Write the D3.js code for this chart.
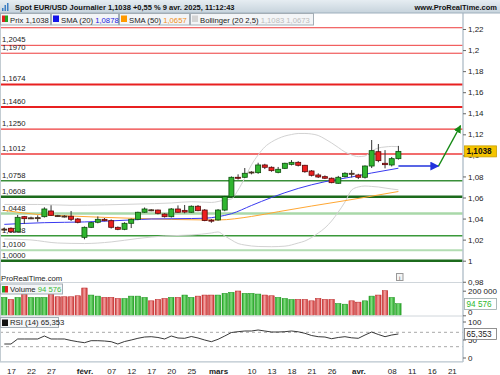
<!DOCTYPE html>
<html>
<head>
<meta charset="utf-8">
<script src="https://cdn.jsdelivr.net/npm/d3@7"></script>
<style>
body { margin: 0; background: #fff; }
svg { display: block; font-family: "Liberation Sans", Arial, sans-serif; }
</style>
</head>
<body>
<svg id="chart" width="500" height="375"></svg>
<script>
// EUR/USD daily candles, 16 jan -> 9 avr 2025
var dates = ["01-16","01-17","01-20","01-21","01-22","01-23","01-24","01-27","01-28","01-29",
  "01-30","01-31","02-03","02-04","02-05","02-06","02-07","02-10","02-11","02-12",
  "02-13","02-14","02-17","02-18","02-19","02-20","02-21","02-24","02-25","02-26",
  "02-27","02-28","03-03","03-04","03-05","03-06","03-07","03-10","03-11","03-12",
  "03-13","03-14","03-17","03-18","03-19","03-20","03-21","03-24","03-25","03-26",
  "03-27","03-28","03-31","04-01","04-02","04-03","04-04","04-07","04-08","04-09"];
var open = [1.0295,1.0308,1.0275,1.0418,1.0405,1.0407,1.0418,1.0472,1.0428,1.0424,
  1.0422,1.0396,1.0222,1.0317,1.0365,1.0393,1.0380,1.0317,1.0298,1.0355,
  1.0393,1.0460,1.0481,1.0481,1.0443,1.0418,1.0491,1.0478,1.0460,1.0517,
  1.0481,1.0385,1.0387,1.0481,1.0608,1.0792,1.0792,1.0838,1.0836,1.0909,
  1.0887,1.0839,1.0877,1.0915,1.0934,1.0906,1.0852,1.0814,1.0798,1.0783,
  1.0735,1.0798,1.0830,1.0814,1.0792,1.0899,1.1035,1.0925,1.0909,1.0969];
var high = [1.0315,1.0316,1.0434,1.0425,1.0418,1.0431,1.0507,1.0526,1.0435,1.0432,
  1.0472,1.0405,1.0325,1.0370,1.0420,1.0405,1.0392,1.0325,1.0365,1.0400,
  1.0465,1.0505,1.0490,1.0485,1.0450,1.0500,1.0525,1.0529,1.0525,1.0528,
  1.0490,1.0395,1.0490,1.0615,1.0800,1.0820,1.0880,1.0850,1.0930,1.0920,
  1.0895,1.0890,1.0930,1.0955,1.0945,1.0910,1.0860,1.0830,1.0810,1.0790,
  1.0805,1.0840,1.0860,1.0825,1.0905,1.1146,1.1108,1.1050,1.0985,1.1090];
var low = [1.0280,1.0265,1.0268,1.0349,1.0395,1.0370,1.0410,1.0425,1.0415,1.0410,
  1.0377,1.0355,1.0203,1.0310,1.0355,1.0375,1.0305,1.0290,1.0290,1.0310,
  1.0385,1.0455,1.0470,1.0440,1.0410,1.0410,1.0455,1.0450,1.0455,1.0470,
  1.0375,1.0360,1.0380,1.0470,1.0600,1.0770,1.0785,1.0820,1.0825,1.0870,
  1.0845,1.0830,1.0870,1.0905,1.0895,1.0835,1.0800,1.0785,1.0775,1.0735,
  1.0730,1.0790,1.0790,1.0775,1.0780,1.0880,1.0935,1.0877,1.0895,1.0960];
var close = [1.0300,1.0275,1.0412,1.0399,1.0407,1.0409,1.0491,1.0431,1.0424,1.0420,
  1.0393,1.0365,1.0317,1.0361,1.0393,1.0380,1.0317,1.0298,1.0355,1.0393,
  1.0460,1.0491,1.0483,1.0450,1.0418,1.0491,1.0460,1.0462,1.0517,1.0475,
  1.0381,1.0378,1.0481,1.0608,1.0792,1.0785,1.0830,1.0842,1.0909,1.0887,
  1.0855,1.0868,1.0925,1.0934,1.0906,1.0845,1.0811,1.0795,1.0783,1.0741,
  1.0792,1.0830,1.0828,1.0792,1.0899,1.1045,1.0950,1.0912,1.0969,1.1038];
var volume = [145700,129000,145700,172800,145700,145700,145700,172800,150600,150600,
  150600,158800,222000,164600,156000,145700,145700,137000,137000,156000,
  156000,145700,117700,129000,137000,145700,145700,164600,145700,156000,
  164600,164600,164600,178600,186800,197500,178600,178600,172800,164600,
  158800,145700,137000,129000,129000,129000,117700,137000,129000,129000,
  96000,90500,117700,107000,117700,156000,164600,200000,145700,94576];
var rsi = [37.5,37.5,51.4,51.4,51.4,51.4,59.7,51.4,51.4,51.4,
  47.2,43.9,41.1,46.7,46.7,45.8,43.9,37.5,44.4,48.6,
  53.3,56.9,57.8,55.6,51.4,59.7,54.2,53.3,58.3,54.2,
  48.6,43.9,50.6,59.7,69.4,71.7,73.6,73.6,76.4,73.6,
  70.8,70.8,71.7,73.6,71.4,67.2,61.1,57.8,56.9,52.2,
  55.6,57.8,54.7,53.3,62.5,70.8,63.9,57.8,62.5,65.353];

// indicator readings [candle index, value]
var sma20 = [[0,1.0345],[6,1.0361],[12,1.0368],[19,1.0387],[22,1.0396],[26,1.0399],[30,1.0403],
  [32,1.0418],[34,1.0446],[37,1.0524],[40,1.0600],[44,1.0686],[48,1.0750],[52,1.0795],[55,1.0833],[59,1.0878]];
var sma50 = [[0,1.0478],[5,1.0439],[10,1.0424],[20,1.0401],[30,1.0387],[32,1.0387],[37,1.0420],
  [41,1.0465],[46,1.0519],[51,1.0570],[54,1.0602],[59,1.0657]];
var bollUp = [[0,1.0534],[5,1.0534],[10,1.0526],[15,1.0530],[20,1.0538],[25,1.0548],[28,1.0560],[31,1.0553],
  [33,1.0576],[34,1.0586],[35,1.0671],[36,1.0785],[37,1.0909],[38,1.1004],[39,1.1080],[40,1.1127],
  [41,1.1160],[42,1.1184],[43,1.1198],[44,1.1208],[45,1.1208],[46,1.1203],[47,1.1189],[48,1.1156],
  [49,1.1118],[50,1.1075],[51,1.1032],[52,1.1004],[53,1.0988],[54,1.0994],[55,1.1042],[56,1.1070],
  [57,1.1080],[58,1.1085],[59,1.1083]];
var bollLow = [[0,1.0206],[4,1.0197],[8,1.0168],[12,1.0163],[16,1.0178],[20,1.0211],[24,1.0235],
  [28,1.0244],[31,1.0263],[32,1.0273],[33,1.0235],[34,1.0197],[35,1.0163],[36,1.0149],[38,1.0135],
  [40,1.0133],[42,1.0138],[44,1.0168],[45,1.0187],[46,1.0220],[47,1.0263],[48,1.0311],[49,1.0377],
  [50,1.0462],[51,1.0557],[52,1.0671],[53,1.0700],[54,1.0709],[55,1.0705],[56,1.0700],[57,1.0690],
  [58,1.0681],[59,1.0673]];

// horizontal levels
var levels = [1.2212,1.2045,1.1970,1.1674,1.1460,1.1250,1.1012,1.0758,1.0608,1.0448,1.0238,1.0100,1.0000];
var levelStyle = [["#ee3b3b",1],["#ee3b3b",1],["#ee3b3b",1],["#e82020",2],["#e82020",2],["#ee3b3b",1.2],["#ee3b3b",1.5],
  ["#3a8f3a",1.5],["#1c6b1c",2.5],["#a9d8a9",2.5],["#3a993a",1.5],["#b3ddb3",2],["#1c6b1c",2.5]];

// drawn arrows [candle index, price]
var arrowBlue = [[59,1.0898],[65,1.0898]];
var arrowGreen = [[65,1.0898],[68.3,1.1282]];

var priceTicks = [1.22,1.2,1.18,1.16,1.14,1.12,1.1,1.08,1.06,1.04,1.02,1,0.98];
var volTicks = [0,200000];
var rsiTicks = [0,50,100];
var xTickIdx = [1,4,7,12,16,19,22,25,28,32,37,40,43,46,49,53,58,61,64,67];
var xTickLabels = ["17","22","27","févr.","07","12","17","20","25","mars","10","13","18","21","26","avr.","08","11","16","21"];

var svg = d3.select("#chart");
var W = 500, axisX = 463;
var comma = function(v) { return String(+v.toFixed(4)).replace(".", ","); };

var x = d3.scaleLinear().domain([0, 59]).range([4.3, 398.4]);
var yP = d3.scaleLinear().domain([1, 1.22]).range([260.7, 29]);
var yV = d3.scaleLinear().domain([0, 200000]).range([315.3, 290.7]);
var yR = d3.scaleLinear().domain([0, 100]).range([357.5, 321.5]);

var defs = svg.append("defs");
function clip(id, y0, y1) {
  defs.append("clipPath").attr("id", id).append("rect")
    .attr("x", 0).attr("y", y0).attr("width", axisX).attr("height", y1 - y0);
}
clip("cp", 13, 282.5); clip("cv", 283, 315.5); clip("cr", 316.5, 361.5);

var tg = defs.append("linearGradient").attr("id", "title").attr("x1", 0).attr("y1", 0).attr("x2", 0).attr("y2", 1);
tg.append("stop").attr("offset", "0%").attr("stop-color", "#e6edf2");
tg.append("stop").attr("offset", "100%").attr("stop-color", "#c6d3dc");
function barGrad(id, edge, mid) {
  var g = defs.append("linearGradient").attr("id", id).attr("x1", 0).attr("x2", 1).attr("y1", 0).attr("y2", 0);
  g.append("stop").attr("offset", "0%").attr("stop-color", edge);
  g.append("stop").attr("offset", "45%").attr("stop-color", mid);
  g.append("stop").attr("offset", "100%").attr("stop-color", edge);
}
barGrad("gUp", "#22a322", "#7fdc7f");
barGrad("gDn", "#cc3333", "#f3a3a3");
[["hBlue", "#2233dd"], ["hGreen", "#158a15"]].forEach(function(m) {
  defs.append("marker").attr("id", m[0]).attr("viewBox", "0 0 10 10").attr("refX", 9).attr("refY", 5)
    .attr("markerWidth", 6).attr("markerHeight", 6).attr("markerUnits", "strokeWidth").attr("orient", "auto")
    .append("path").attr("d", "M0,0L10,5L0,10Z").attr("fill", m[1]);
});

// ---- price panel
var pp = svg.append("g").attr("clip-path", "url(#cp)");
levels.forEach(function(v, i) {
  pp.append("line").attr("x1", 0).attr("x2", axisX).attr("y1", yP(v)).attr("y2", yP(v))
    .attr("stroke", levelStyle[i][0]).attr("stroke-width", levelStyle[i][1]);
  // the top label sits under the legend strip, so it is not drawn
  if (yP(v) - 3 > 32) {
    pp.append("text").attr("x", 2).attr("y", yP(v) - 3).attr("font-size", 7.7).attr("fill", "#222")
      .text(v.toFixed(4).replace(".", ","));
  }
});

var line = d3.line().x(function(d) { return x(d[0]); }).y(function(d) { return yP(d[1]); }).curve(d3.curveMonotoneX);
pp.append("path").attr("d", line(bollUp)).attr("fill", "none").attr("stroke", "#d2d2d2").attr("stroke-width", 1);
pp.append("path").attr("d", line(bollLow)).attr("fill", "none").attr("stroke", "#d2d2d2").attr("stroke-width", 1);
pp.append("path").attr("d", line(sma50)).attr("fill", "none").attr("stroke", "#ffa733").attr("stroke-width", 1);
pp.append("path").attr("d", line(sma20)).attr("fill", "none").attr("stroke", "#3a3af0").attr("stroke-width", 1);

var idx = d3.range(dates.length);
pp.selectAll("line.wick").data(idx).join("line").attr("class", "wick")
  .attr("x1", function(i) { return x(i); }).attr("x2", function(i) { return x(i); })
  .attr("y1", function(i) { return yP(high[i]); }).attr("y2", function(i) { return yP(low[i]); })
  .attr("stroke", "#333").attr("stroke-width", 1);
pp.selectAll("rect.body").data(idx).join("rect").attr("class", "body")
  .attr("x", function(i) { return x(i) - 2.5; }).attr("width", 5)
  .attr("y", function(i) { return yP(Math.max(open[i], close[i])); })
  .attr("height", function(i) { return Math.max(1, Math.abs(yP(open[i]) - yP(close[i]))); })
  .attr("fill", function(i) { return Math.abs(close[i] - open[i]) < 0.0005 ? "#4a3020" : close[i] >= open[i] ? "#2fb52f" : "#ec2020"; })
  .attr("stroke", function(i) { return Math.abs(close[i] - open[i]) < 0.0005 ? "#4a3020" : close[i] >= open[i] ? "#0d4f0d" : "#5a0a0a"; })
  .attr("stroke-width", 0.8);

var aline = d3.line().x(function(d) { return x(d[0]); }).y(function(d) { return yP(d[1]); });
svg.append("path").attr("d", aline(arrowBlue)).attr("stroke", "#2233dd").attr("stroke-width", 1.5)
  .attr("fill", "none").attr("marker-end", "url(#hBlue)");
svg.append("path").attr("d", aline(arrowGreen)).attr("stroke", "#158a15").attr("stroke-width", 1.3)
  .attr("fill", "none").attr("marker-end", "url(#hGreen)");

// ---- volume panel
var vp = svg.append("g").attr("clip-path", "url(#cv)");
vp.selectAll("rect").data(idx).join("rect")
  .attr("x", function(i) { return x(i) - 2.7; }).attr("width", 5.4)
  .attr("y", function(i) { return yV(volume[i]); })
  .attr("height", function(i) { return yV(0) - yV(volume[i]); })
  .attr("fill", function(i) { return (i === 0 || close[i] >= close[i - 1]) ? "url(#gUp)" : "url(#gDn)"; })
  .attr("stroke", function(i) { return (i === 0 || close[i] >= close[i - 1]) ? "#199119" : "#b81f1f"; })
  .attr("stroke-width", 0.5);

// ---- RSI panel
var rp = svg.append("g").attr("clip-path", "url(#cr)");
[70, 30].forEach(function(v) {
  rp.append("line").attr("x1", 0).attr("x2", axisX).attr("y1", yR(v)).attr("y2", yR(v))
    .attr("stroke", "#a8a8a8").attr("stroke-dasharray", "3,3");
});
rp.append("path").datum(idx)
  .attr("d", d3.line().x(function(i) { return x(i); }).y(function(i) { return yR(rsi[i]); }))
  .attr("fill", "none").attr("stroke", "#222").attr("stroke-width", 0.9);

// ---- frames
var frame = "#b9c5ce";
[282.5, 316].forEach(function(y) {
  svg.append("line").attr("x1", 0).attr("x2", axisX).attr("y1", y).attr("y2", y).attr("stroke", "#d0d6db");
});
svg.append("line").attr("x1", 0).attr("x2", axisX).attr("y1", 361.8).attr("y2", 361.8).attr("stroke", frame).attr("stroke-width", 1.2);
svg.append("line").attr("x1", axisX).attr("x2", axisX).attr("y1", 13).attr("y2", 362).attr("stroke", frame).attr("stroke-width", 1.5);
svg.append("line").attr("x1", 0.5).attr("x2", 0.5).attr("y1", 13).attr("y2", 362).attr("stroke", "#c3ccd2");

// ---- axes
function styleAxis(g) {
  g.select(".domain").remove();
  g.selectAll(".tick line").attr("stroke", "#666");
  g.selectAll(".tick text").attr("fill", "#222").attr("font-size", 8)
    .attr("font-family", "'Liberation Sans', Arial, sans-serif");
}
svg.append("g").attr("transform", "translate(" + axisX + ",0)")
  .call(d3.axisRight(yP).tickValues(priceTicks).tickFormat(comma).tickSize(3).tickPadding(2))
  .call(styleAxis);
svg.append("g").attr("transform", "translate(" + axisX + ",0)")
  .call(d3.axisRight(yV).tickValues(volTicks).tickFormat(function(v) { return v === 0 ? "0" : d3.format(",")(v).replace(/,/g, " "); }).tickSize(3).tickPadding(2))
  .call(styleAxis)
  .selectAll(".tick text").attr("dy", function(d) { return d === 0 ? "-0.1em" : "0.32em"; });
svg.append("g").attr("transform", "translate(" + axisX + ",0)")
  .call(d3.axisRight(yR).tickValues(rsiTicks).tickFormat(d3.format("d")).tickSize(3).tickPadding(2))
  .call(styleAxis);
var xa = svg.append("g").attr("transform", "translate(0,362)")
  .call(d3.axisBottom(x).tickValues(xTickIdx).tickFormat(function(d, i) { return xTickLabels[i]; }).tickSize(0).tickPadding(6))
  .call(styleAxis);
xa.selectAll(".tick text").attr("font-weight", function(d, i) { return /[a-z]/.test(xTickLabels[i]) ? "bold" : "normal"; });

// ---- value tags on the right axis
function tag(y, txt, fill, stroke, color, bold) {
  svg.append("rect").attr("x", 464.5).attr("y", y - 5.5).attr("width", 32).attr("height", 11)
    .attr("fill", fill).attr("stroke", stroke).attr("stroke-width", 0.8);
  svg.append("text").attr("x", 466.5).attr("y", y + 3).attr("font-size", 8.2)
    .attr("font-weight", bold ? "bold" : "normal").attr("fill", color).text(txt);
}
tag(yP(close[59]), comma(close[59]), "#f5c400", "#c9a000", "#111", true);
tag(304, d3.format(",")(volume[59]).replace(/,/g, " "), "#fff", "#9aa", "#2db82d", false);
tag(yR(rsi[59]), comma(+rsi[59].toFixed(3)), "#fff", "#777", "#222", false);

// ---- title bar
svg.append("rect").attr("x", 0).attr("y", 0).attr("width", W).attr("height", 13).attr("fill", "url(#title)");
svg.append("line").attr("x1", 0).attr("x2", W).attr("y1", 13).attr("y2", 13).attr("stroke", "#9fb0bd");
var ic = svg.append("g").attr("transform", "translate(2,2)");
[[0,6,1.5],[2.5,3,1.5],[5,1,1.5]].forEach(function(b) {
  ic.append("rect").attr("x", b[0]).attr("y", b[1]).attr("width", b[2]).attr("height", 9 - b[1]).attr("fill", "#3d7fc4");
});
svg.append("text").attr("x", 15).attr("y", 10).attr("font-size", 7.5).attr("font-weight", "bold").attr("fill", "#111")
  .text("Spot EUR/USD Journalier " + comma(close[59]) + " +0,55 % 9 avr. 2025, 11:12:43");
svg.append("text").attr("x", 497).attr("y", 10).attr("text-anchor", "end").attr("font-size", 7.5)
  .attr("font-weight", "bold").attr("fill", "#111").text("www.ProRealTime.com");

// ---- legends
function legendBox(x0, x1, y0, h, icon, parts) {
  svg.append("rect").attr("x", x0 + 0.5).attr("y", y0 + 0.5).attr("width", x1 - x0).attr("height", h)
    .attr("fill", "#f3f5f7").attr("stroke", "#a3adb5");
  icon(x0 + 2, y0 + 2.5);
  var t = svg.append("text").attr("x", x0 + 10).attr("y", y0 + h - 2).attr("font-size", 7.7);
  parts.forEach(function(p) { t.append("tspan").attr("fill", p[1]).text(p[0]); });
}
function sq(c) { return function(x0, y0) { svg.append("rect").attr("x", x0).attr("y", y0).attr("width", 6).attr("height", 6.5).attr("fill", c); }; }
function split(a, b) {
  return function(x0, y0) {
    svg.append("rect").attr("x", x0).attr("y", y0).attr("width", 3).attr("height", 6.5).attr("fill", a);
    svg.append("rect").attr("x", x0 + 3).attr("y", y0).attr("width", 3).attr("height", 6.5).attr("fill", b);
  };
}
legendBox(0, 50, 13, 11.5, split("#e02020", "#22a322"), [["Prix " + comma(close[59]), "#222"]]);
legendBox(51, 118, 13, 11.5, sq("#1414e8"), [["SMA (20) ", "#222"], [comma(sma20[sma20.length - 1][1]), "#2222dd"]]);
legendBox(119, 189, 13, 11.5, sq("#ff9900"), [["SMA (50) ", "#222"], [comma(sma50[sma50.length - 1][1]), "#f09020"]]);
legendBox(190, 313, 13, 11.5, sq("#d4d4d4"), [["Bollinger (20 2,5) ", "#222"],
  [comma(bollUp[bollUp.length - 1][1]) + " " + comma(bollLow[bollLow.length - 1][1]), "#bcbcbc"]]);

svg.append("text").attr("x", 1).attr("y", 281).attr("font-size", 7.7).attr("fill", "#222").text("ProRealTime.com");
svg.append("rect").attr("x", 396.5).attr("y", 273.5).attr("width", 6.5).attr("height", 7).attr("fill", "#f4f4f4").attr("stroke", "#999");
svg.append("text").attr("x", 399.7).attr("y", 279.5).attr("font-size", 6).attr("text-anchor", "middle").attr("fill", "#555").text("i");

legendBox(0, 62, 283.5, 10, split("#22a322", "#e02020"), [["Volume ", "#222"], [d3.format(",")(volume[59]).replace(/,/g, " "), "#3cbb3c"]]);
legendBox(0, 58, 317, 10, sq("#111"), [["RSI (14) " + comma(+rsi[59].toFixed(3)), "#222"]]);
</script>
</body>
</html>
